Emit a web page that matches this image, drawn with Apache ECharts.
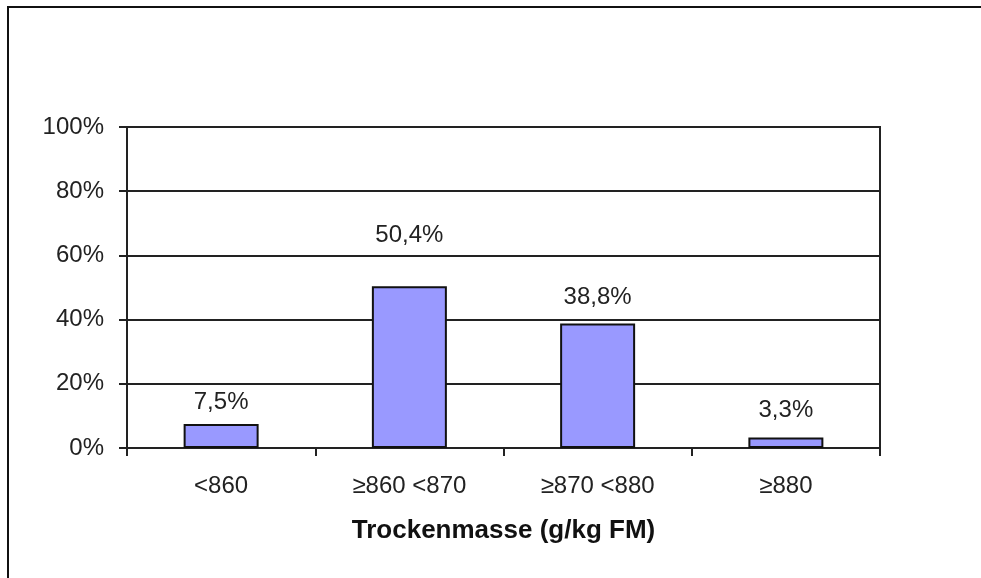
<!DOCTYPE html>
<html>
<head>
<meta charset="utf-8">
<script src="https://cdn.jsdelivr.net/npm/echarts@6/dist/echarts.min.js"></script>
<style>
html,body{margin:0;padding:0;background:#fff;}
#chart{width:981px;height:578px;}
</style>
</head>
<body>
<div id="chart"></div>
<script>
var categories = ['<860', '\u2265860 <870', '\u2265870 <880', '\u2265880'];
var shares = [7.5, 50.4, 38.8, 3.3];
var axisTitle = 'Trockenmasse (g/kg FM)';
var labelDistances = [10, 39, 14, 15];

var chart = echarts.init(document.getElementById('chart'));
var txt = '#222';
var font = 'Arial, "Liberation Sans", sans-serif';
chart.setOption({
  animation: false,
  backgroundColor: '#fff',
  graphic: [{
    type: 'rect',
    shape: { x: 8, y: 7, width: 1100, height: 1000 },
    style: { fill: 'none', stroke: '#111', lineWidth: 2 },
    silent: true
  }],
  grid: { left: 127, right: 101, top: 127, bottom: 130, show: true, borderColor: '#222', borderWidth: 2, backgroundColor: 'transparent' },
  xAxis: {
    type: 'category',
    data: categories,
    boundaryGap: true,
    name: axisTitle,
    nameLocation: 'middle',
    nameGap: 70,
    nameTextStyle: { fontFamily: font, fontSize: 26, fontWeight: 'bold', color: '#111' },
    axisLine: { lineStyle: { color: '#222', width: 2 } },
    axisTick: { show: true, length: 8, inside: false, alignWithLabel: false, lineStyle: { color: '#222', width: 2 } },
    axisLabel: { fontFamily: font, fontSize: 24, color: txt, margin: 26, interval: 0 },
    splitLine: { show: false }
  },
  yAxis: {
    type: 'value',
    min: 0,
    max: 100,
    interval: 20,
    axisLine: { show: true, lineStyle: { color: '#222', width: 2 } },
    axisTick: { show: true, length: 8, lineStyle: { color: '#222', width: 2 } },
    axisLabel: { fontFamily: font, fontSize: 24, color: txt, margin: 23, formatter: '{value}%' },
    splitLine: { show: true, lineStyle: { color: '#222', width: 2 } }
  },
  series: [{
    type: 'bar',
    barWidth: 75,
    data: shares.map(function (v, i) {
      return { value: v, label: { distance: labelDistances[i] } };
    }),
    itemStyle: { color: '#9999FF', borderColor: '#111', borderWidth: 2 },
    label: {
      show: true,
      position: 'top',
      fontFamily: font,
      fontSize: 24,
      color: txt,
      formatter: function (p) { return p.value.toFixed(1).replace('.', ',') + '%'; }
    }
  }]
});
</script>
</body>
</html>
